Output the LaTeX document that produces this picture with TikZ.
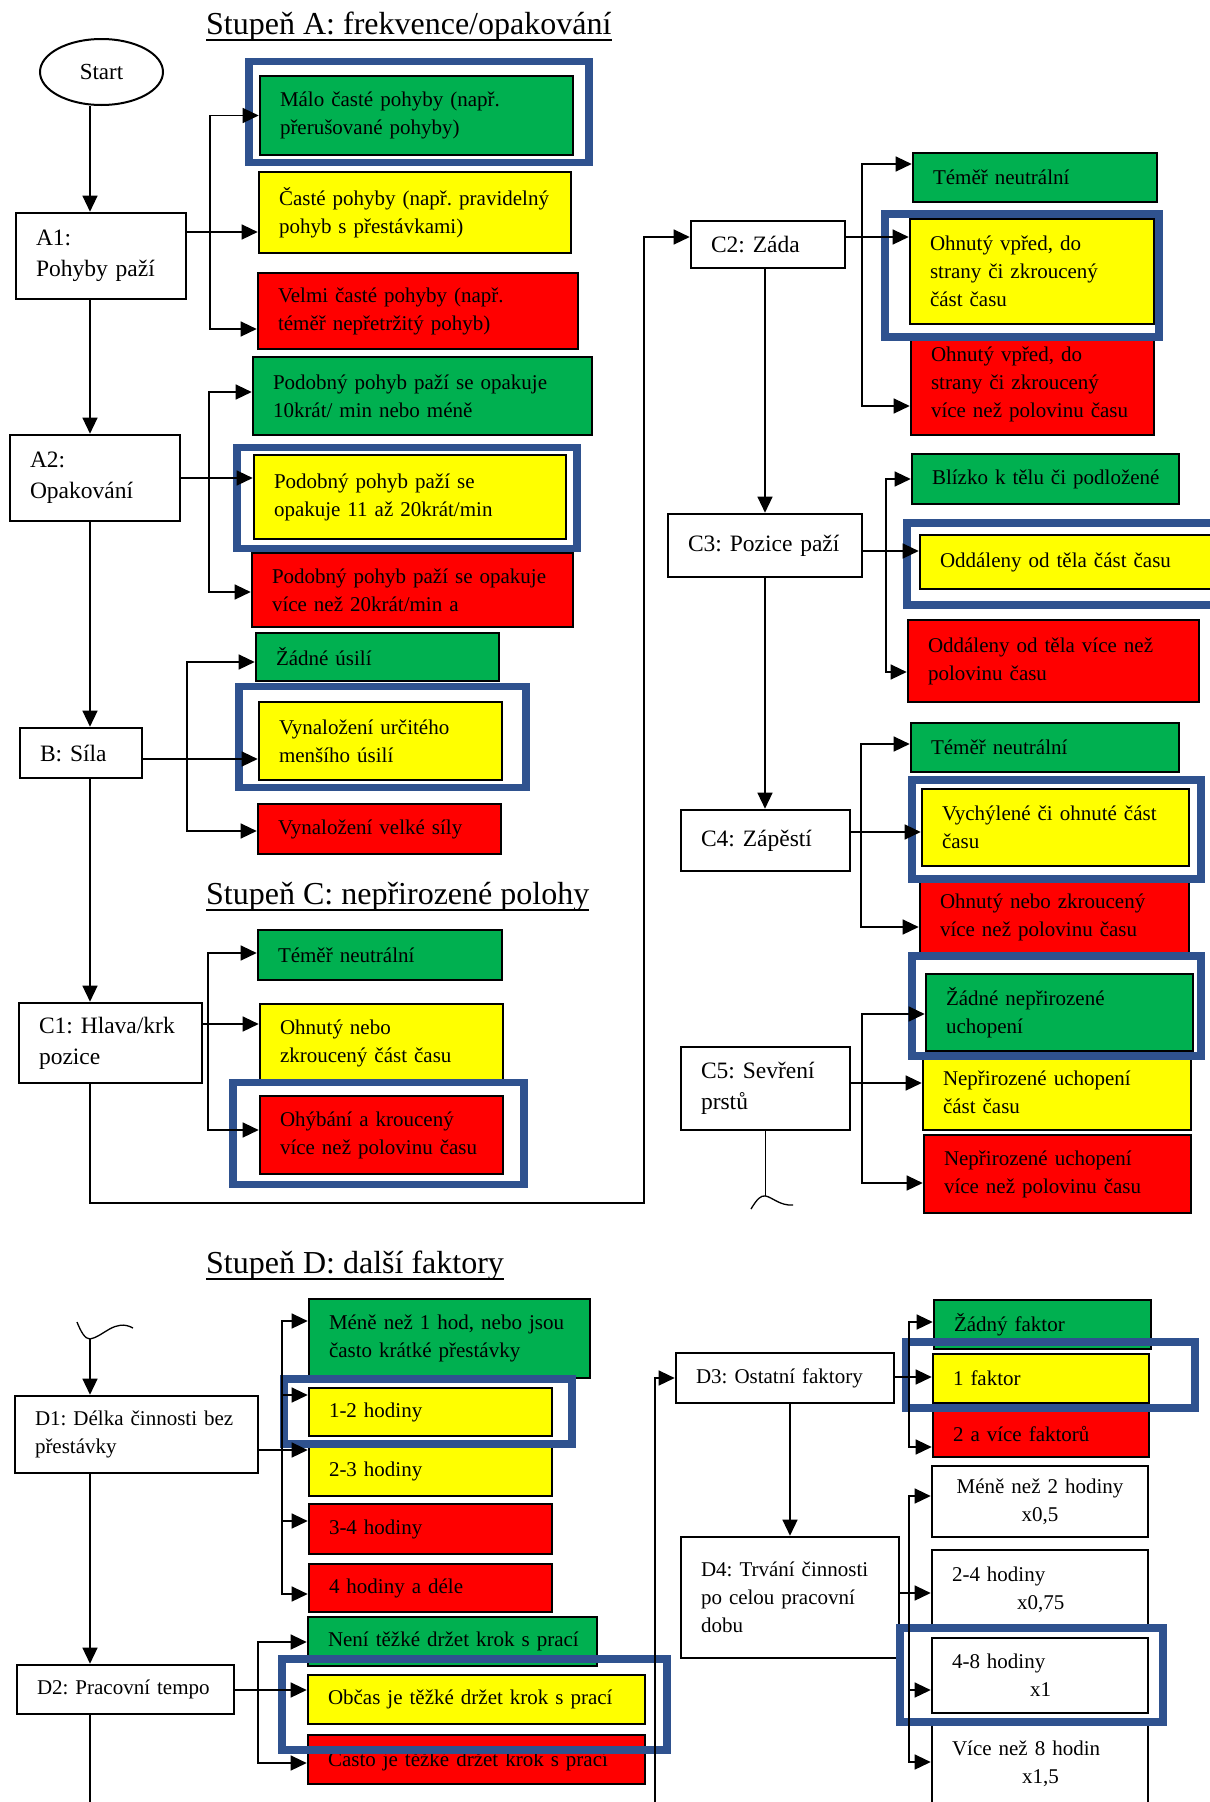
\documentclass[tikz,border=0pt]{standalone}
\usepackage{fontspec}
\setmainfont{Liberation Serif}
\usepackage{tikz}
\usetikzlibrary{arrows.meta,shapes.geometric}
\definecolor{okgreen}{RGB}{0,176,80}
\definecolor{okyellow}{RGB}{255,255,0}
\definecolor{okred}{RGB}{255,0,0}
\definecolor{hlblue}{RGB}{47,82,143}
\frenchspacing
\hyphenpenalty=10000

\begin{document}
\begin{tikzpicture}[x=1pt,y=-1pt]
  \tikzset{
    box/.style={draw, rectangle, line width=2.6pt, inner xsep=20pt, inner ysep=0pt, align=left, font=\fontsize{21}{28}\selectfont},
    gbox/.style={box, fill=okgreen},
    ybox/.style={box, fill=okyellow},
    rbox/.style={box, fill=okred},
    wbox/.style={box, fill=white},
    lbl/.style={box, fill=white, font=\fontsize{23.5}{31}\selectfont},
    ttl/.style={inner sep=0pt, anchor=base west, font=\fontsize{32}{38}\selectfont},
    uline/.style={draw, line width=1.6pt},
    hl/.style={draw=hlblue, line width=7.5pt},
    line/.style={draw, line width=1.3pt, -{Triangle[length=16pt, width=15pt]}},
    wire/.style={draw, line width=1.3pt},
  }
  \useasboundingbox (0,0) rectangle (1210,1802);
  \fill[white] (0,0) rectangle (1210,1802);

  % Stupen A
  \node [ttl] (ta) at (206,34) {Stupeň A: frekvence/opakování};
  \node [draw, ellipse, line width=2pt, minimum width=123pt, minimum height=66pt, inner sep=0pt, font=\fontsize{23}{28}\selectfont] (start) at (101.5,72) {Start};
  \node [lbl, minimum width=170pt, minimum height=86pt, text width=130pt] (a1) at (101,256) {A1:\\Pohyby paží};
  \node [gbox, minimum width=313pt, minimum height=79pt, text width=273pt] (a1g) at (416.5,115.5) {Málo časté pohyby (např.\\přerušované pohyby)};
  \node [ybox, minimum width=312pt, minimum height=81pt, text width=272pt] (a1y) at (415,212.5) {Časté pohyby (např. pravidelný\\pohyb s přestávkami)};
  \node [rbox, minimum width=320pt, minimum height=76pt, text width=280pt] (a1r) at (418,311) {Velmi časté pohyby (např.\\téměř nepřetržitý pohyb)};

  \node [lbl, minimum width=170pt, minimum height=86pt, text width=130pt] (a2) at (95,478) {A2:\\Opakování};
  \node [gbox, minimum width=339pt, minimum height=78pt, text width=299pt] (a2g) at (422.5,396) {Podobný pohyb paží se opakuje\\10krát/ min nebo méně};
  \node [ybox, minimum width=312pt, minimum height=84pt, text width=272pt] (a2y) at (410,497) {Podobný pohyb paží se\\opakuje 11 až 20krát/min};
  \node [rbox, minimum width=321pt, minimum height=74pt, text width=281pt] (a2r) at (412.5,590) {Podobný pohyb paží se opakuje\\více než 20krát/min a};

  \node [lbl, minimum width=122pt, minimum height=50pt, text width=82pt] (b) at (81,753) {B: Síla};
  \node [gbox, minimum width=243pt, minimum height=48pt, text width=203pt] (bg) at (377.5,657) {Žádné úsilí};
  \node [ybox, minimum width=243pt, minimum height=78pt, text width=203pt] (by) at (380.5,741) {Vynaložení určitého\\menšího úsilí};
  \node [rbox, minimum width=243pt, minimum height=50pt, text width=203pt] (br) at (379.5,829) {Vynaložení velké síly};

  % Stupen C
  \node [ttl] (tc) at (206,904) {Stupeň C: nepřirozené polohy};
  \node [lbl, minimum width=183pt, minimum height=80pt, text width=143pt] (c1) at (110.5,1043) {C1: Hlava/krk\\pozice};
  \node [gbox, minimum width=244pt, minimum height=50pt, text width=204pt] (c1g) at (380,955) {Téměř neutrální};
  \node [ybox, minimum width=243pt, minimum height=78pt, text width=203pt] (c1y) at (381.5,1043) {Ohnutý nebo\\zkroucený část času};
  \node [rbox, minimum width=243pt, minimum height=78pt, text width=203pt] (c1r) at (381.5,1135) {Ohýbání a kroucený\\více než polovinu času};

  \node [lbl, minimum width=154pt, minimum height=47pt, text width=114pt] (c2) at (768,244.5) {C2: Záda};
  \node [gbox, minimum width=244pt, minimum height=49pt, text width=204pt] (c2g) at (1035,177.5) {Téměř neutrální};
  \node [ybox, minimum width=244pt, minimum height=105pt, text width=204pt] (c2y) at (1032,271.5) {Ohnutý vpřed, do\\strany či zkroucený\\část času};
  \node [rbox, minimum width=243pt, minimum height=101pt, text width=203pt] (c2r) at (1032.5,384.5) {Ohnutý vpřed, do\\strany či zkroucený\\více než polovinu času};

  \node [lbl, minimum width=194pt, minimum height=63pt, text width=154pt] (c3) at (765,545.5) {C3: Pozice paží};
  \node [gbox, minimum width=267pt, minimum height=50pt, text width=227pt] (c3g) at (1045.5,479) {\mbox{Blízko k tělu či podložené}};
  \node [ybox, minimum width=320pt, minimum height=54pt, text width=280pt] (c3y) at (1080,562) {Oddáleny od těla část času};
  \node [rbox, minimum width=291pt, minimum height=82pt, text width=251pt] (c3r) at (1053.5,661) {Oddáleny od těla více než\\polovinu času};

  \node [lbl, minimum width=169pt, minimum height=61pt, text width=129pt] (c4) at (765.5,840.5) {C4: Zápěstí};
  \node [gbox, minimum width=268pt, minimum height=49pt, text width=228pt] (c4g) at (1045,747.5) {Téměř neutrální};
  \node [ybox, minimum width=267pt, minimum height=77pt, text width=227pt] (c4y) at (1055.5,827.5) {Vychýlené či ohnuté část\\času};
  \node [rbox, minimum width=269pt, minimum height=76pt, text width=229pt] (c4r) at (1054.5,917) {Ohnutý nebo zkroucený\\více než polovinu času};

  \node [lbl, minimum width=169pt, minimum height=83pt, text width=129pt] (c5) at (765.5,1088.5) {C5: Sevření\\prstů};
  \node [gbox, minimum width=267pt, minimum height=77pt, text width=227pt] (c5g) at (1059.5,1012.5) {Žádné nepřirozené\\uchopení};
  \node [ybox, minimum width=268pt, minimum height=76pt, text width=228pt] (c5y) at (1057,1092) {Nepřirozené uchopení\\část času};
  \node [rbox, minimum width=267pt, minimum height=78pt, text width=227pt] (c5r) at (1057.5,1174) {Nepřirozené uchopení\\více než polovinu času};

  % Stupen D
  \node [ttl] (td) at (206,1273) {Stupeň D: další faktory};
  \node [wbox, minimum width=243pt, minimum height=77pt, text width=203pt] (d1) at (136.5,1434.5) {D1: Délka činnosti bez\\přestávky};
  \node [gbox, minimum width=281pt, minimum height=79pt, text width=241pt] (d1g) at (449.5,1338.5) {Méně než 1 hod, nebo jsou\\často krátké přestávky};
  \node [ybox, minimum width=243pt, minimum height=48pt, text width=203pt] (d1y) at (430.5,1412) {1-2 hodiny};
  \node [ybox, minimum width=243pt, minimum height=50pt, text width=203pt] (d1y2) at (430.5,1471) {2-3 hodiny};
  \node [rbox, minimum width=243pt, minimum height=50pt, text width=203pt] (d1r) at (430.5,1529) {3-4 hodiny};
  \node [rbox, minimum width=243pt, minimum height=48pt, text width=203pt] (d1r2) at (430.5,1588) {4 hodiny a déle};

  \node [wbox, minimum width=217pt, minimum height=49pt, text width=177pt] (d2) at (125.5,1689.5) {D2: Pracovní tempo};
  \node [gbox, minimum width=289pt, minimum height=49pt, text width=249pt] (d2g) at (452.5,1641.5) {\mbox{Není těžké držet krok s prací}};
  \node [ybox, minimum width=337pt, minimum height=49pt, text width=297pt] (d2y) at (476.5,1699.5) {Občas je těžké držet krok s prací};
  \node [rbox, minimum width=337pt, minimum height=49pt, text width=297pt] (d2r) at (476.5,1759.5) {Často je těžké držet krok s prací};

  \node [wbox, minimum width=218pt, minimum height=50pt, text width=178pt] (d3) at (785,1378) {D3: Ostatní faktory};
  \node [gbox, minimum width=217pt, minimum height=49pt, text width=177pt] (d3g) at (1042.5,1324.5) {Žádný faktor};
  \node [ybox, minimum width=216pt, minimum height=49pt, text width=176pt] (d3y) at (1041,1378.5) {1 faktor};
  \node [rbox, minimum width=216pt, minimum height=47pt, text width=176pt] (d3r) at (1041,1433.5) {2 a více faktorů};

  \node [wbox, minimum width=218pt, minimum height=121pt, text width=178pt] (d4) at (790,1597.5) {D4: Trvání činnosti\\po celou pracovní\\dobu};
  \node [wbox, minimum width=216pt, minimum height=71pt, text width=176pt, align=center] (d4a) at (1040,1501.5) {Méně než 2 hodiny\\x0,5};
  \node [wbox, minimum width=216pt, minimum height=80pt, text width=176pt] (d4b) at (1040,1590) {2-4 hodiny\\\hspace*{65pt}x0,75};
  \node [wbox, minimum width=216pt, minimum height=75pt, text width=176pt] (d4c) at (1040,1675.5) {4-8 hodiny\\\hspace*{78pt}x1};
  \node [wbox, minimum width=216pt, minimum height=84pt, text width=176pt] (d4d) at (1040,1764) {Více než 8 hodin\\\hspace*{70pt}x1,5};

  % underlines of the headings
  \path [uline] ([yshift=-6pt]ta.base west) -- ([yshift=-6pt]ta.base east);
  \path [uline] ([yshift=-6pt]tc.base west) -- ([yshift=-6pt]tc.base east);
  \path [uline] ([yshift=-6pt]td.base west) -- ([yshift=-6pt]td.base east);

  % chosen answers
  \draw [hl] (249,61.5) rectangle (589,162.5);
  \draw [hl] (237,447.5) rectangle (577,548.5);
  \draw [hl] (239,686.5) rectangle (526,787.5);
  \draw [hl] (233,1082.5) rectangle (524,1184.5);
  \draw [hl] (885,214) rectangle (1159,337);
  \draw [hl] (907,523) rectangle (1240,605);
  \draw [hl] (912,780) rectangle (1201,879);
  \draw [hl] (912,956) rectangle (1201,1056);
  \draw [hl] (284,1379) rectangle (572,1444);
  \draw [hl] (282,1659) rectangle (667,1750);
  \draw [hl] (906,1342) rectangle (1195,1408);
  \draw [hl] (900,1628) rectangle (1163,1722);

  % main line
  \coordinate (spine) at (90,0);
  \coordinate (back) at (644,1203);
  \path [line] (spine |- start.south) -- (spine |- a1.north);
  \path [line] (spine |- a1.south) -- (spine |- a2.north);
  \path [line] (spine |- a2.south) -- (spine |- b.north);
  \path [line] (spine |- b.south) -- (spine |- c1.north);
  \coordinate (jc2) at (862,237);
  \path [line] (spine |- c1.south) |- (back) |- (c2.west |- jc2);
  \path [line] (c2.south -| c3.north) -- (c3.north);
  \path [line] (c3.south) -- (c3.south |- c4.north);
  \coordinate (cut1) at (765.5,1196);
  \path [wire] (c5.south) -- (cut1);
  \path [wire] (751,1209) .. controls (757,1199) and (761,1195) .. (cut1) .. controls (772,1197) and (780,1206) .. (793,1205);

  % branches A, B
  \coordinate (ja1) at (210,232);
  \path [line] (a1.east |- ja1) -- (a1y.west |- ja1);
  \path [line] (ja1) |- (a1g.west);
  \path [line] (ja1) |- (a1r.west |- 0,329);
  \coordinate (ja2) at (209,478);
  \path [line] (a2.east |- ja2) -- (a2y.west |- ja2);
  \path [line] (ja2) |- (a2g.west |- 0,392);
  \path [line] (ja2) |- (a2r.west |- 0,592);
  \coordinate (jb) at (187,759);
  \path [line] (b.east |- jb) -- (by.west |- jb);
  \path [line] (jb) |- (bg.west |- 0,662);
  \path [line] (jb) |- (br.west |- 0,831);

  % branches C
  \coordinate (jc1) at (208,1024);
  \path [line] (c1.east |- jc1) -- (c1y.west |- jc1);
  \path [line] (jc1) |- (c1g.west |- 0,953);
  \path [line] (jc1) |- (c1r.west |- 0,1130);
  \path [line] (c2.east |- jc2) -- (c2y.west |- jc2);
  \path [line] (jc2) |- (c2g.west |- 0,164);
  \path [line] (jc2) |- (c2r.west |- 0,406);
  \coordinate (jc3) at (886,551);
  \path [line] (c3.east |- jc3) -- (c3y.west |- jc3);
  \path [line] (jc3) |- (c3g.west |- 0,479);
  \path [line] (jc3) |- (c3r.west |- 0,672);
  \coordinate (jc4) at (861,832);
  \path [line] (c4.east |- jc4) -- (c4y.west |- jc4);
  \path [line] (jc4) |- (c4g.west |- 0,744);
  \path [line] (jc4) |- (c4r.west |- 0,927);
  \coordinate (jc5) at (862,1083);
  \path [line] (c5.east |- jc5) -- (c5y.west |- jc5);
  \path [line] (jc5) |- (c5g.west |- 0,1014);
  \path [line] (jc5) |- (c5r.west |- 0,1183);

  % part D
  \coordinate (cut2) at (90,1339);
  \path [wire] (77,1322) .. controls (81,1332) and (85,1339) .. (cut2) .. controls (103,1337) and (115,1318) .. (133,1328);
  \path [line] (cut2) -- (cut2 |- d1.north);
  \path [line] (cut2 |- d1.south) -- (cut2 |- d2.north);
  \coordinate (dout) at (90,1810);
  \path [wire] (dout |- d2.south) -- (dout);
  \coordinate (din) at (655,1810);
  \path [line] (din) |- (d3.west);
  \path [line] (d3.south -| d4.north) -- (d4.north);

  \coordinate (jd1) at (282,1450);
  \path [line] (d1.east |- jd1) -- (d1y2.west |- jd1);
  \path [line] (jd1) |- (d1g.west |- 0,1321);
  \path [line] (jd1) |- (d1y.west |- 0,1395);
  \path [line] (jd1) |- (d1r.west |- 0,1521);
  \path [line] (jd1) |- (d1r2.west |- 0,1594);
  \coordinate (jd2) at (258,1690);
  \path [line] (d2.east |- jd2) -- (d2y.west |- jd2);
  \path [line] (jd2) |- (d2g.west |- 0,1642);
  \path [line] (jd2) |- (d2r.west |- 0,1763);
  \coordinate (jd3) at (909,1377);
  \path [line] (d3.east |- jd3) -- (d3y.west |- jd3);
  \path [line] (jd3) |- (d3g.west |- 0,1322);
  \path [line] (jd3) |- (d3r.west |- 0,1447);
  \coordinate (jd4) at (909,1593);
  \path [line] (d4.east |- jd4) -- (d4b.west |- jd4);
  \path [line] (jd4) |- (d4a.west |- 0,1496);
  \path [line] (jd4) |- (d4c.west |- 0,1690);
  \path [line] (jd4) |- (d4d.west |- 0,1762);
\end{tikzpicture}
\end{document}
